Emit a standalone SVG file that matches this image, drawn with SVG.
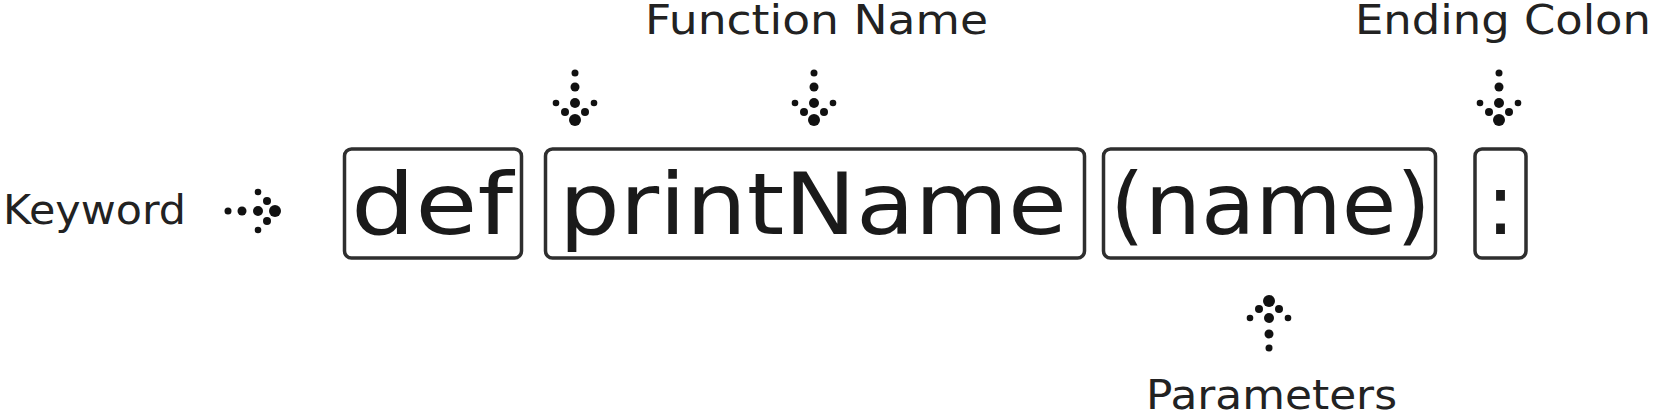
<svg xmlns="http://www.w3.org/2000/svg" xmlns:xlink="http://www.w3.org/1999/xlink" width="1653" height="419" viewBox="0 0 1653 419">
<style>
.bg{fill:#ffffff}
.box{fill:none;stroke:#2e2e2e;stroke-width:3.5}
.code{font-family:"DejaVu Sans","Liberation Sans",sans-serif;font-size:86px;fill:#1a1a1a}
.lbl{font-family:"DejaVu Sans","Liberation Sans",sans-serif;font-size:40px;fill:#222222}
.dot{fill:#111111}
</style>
<defs>
<g id="arrow">
<circle class="dot" cx="0" cy="-30" r="3.5"/>
<circle class="dot" cx="0" cy="-16" r="4.5"/>
<circle class="dot" cx="-19" cy="0" r="3.3"/>
<circle class="dot" cx="0" cy="0" r="5"/>
<circle class="dot" cx="19" cy="0" r="3.3"/>
<circle class="dot" cx="-10" cy="9" r="4"/>
<circle class="dot" cx="10" cy="9" r="4"/>
<circle class="dot" cx="0" cy="17" r="6"/>
</g>
</defs>
<rect class="bg" x="0" y="0" width="1653" height="419"/>
<g id="node-def">
<rect class="box" x="344.5" y="149" width="177" height="109" rx="7"/>
<text class="code" x="351" y="234" textLength="162" lengthAdjust="spacingAndGlyphs">def</text>
</g>
<g id="node-printName">
<rect class="box" x="545.5" y="149" width="539" height="109" rx="7"/>
<text class="code" x="559" y="234" textLength="508" lengthAdjust="spacingAndGlyphs">printName</text>
</g>
<g id="node-name">
<rect class="box" x="1103.5" y="149" width="332" height="109" rx="7"/>
<text class="code" x="1110" y="234" textLength="321" lengthAdjust="spacingAndGlyphs">(name)</text>
</g>
<g id="node-colon">
<rect class="box" x="1475" y="149" width="51" height="109" rx="7"/>
<text class="code" x="1500.5" y="234" text-anchor="middle">:</text>
</g>
<g id="label-keyword">
<text class="lbl" x="3" y="224" textLength="183" lengthAdjust="spacingAndGlyphs">Keyword</text>
</g>
<g id="label-function-name">
<text class="lbl" x="645" y="34" textLength="343" lengthAdjust="spacingAndGlyphs">Function Name</text>
</g>
<g id="label-ending-colon">
<text class="lbl" x="1355" y="34" textLength="296" lengthAdjust="spacingAndGlyphs">Ending Colon</text>
</g>
<g id="label-parameters">
<text class="lbl" x="1146" y="409" textLength="251" lengthAdjust="spacingAndGlyphs">Parameters</text>
</g>
<g id="connectors">
<use xlink:href="#arrow" transform="translate(258,211) rotate(-90)"/>
<use xlink:href="#arrow" transform="translate(575,103)"/>
<use xlink:href="#arrow" transform="translate(814,103)"/>
<use xlink:href="#arrow" transform="translate(1499,103)"/>
<use xlink:href="#arrow" transform="translate(1269,318) rotate(180)"/>
</g>
</svg>
